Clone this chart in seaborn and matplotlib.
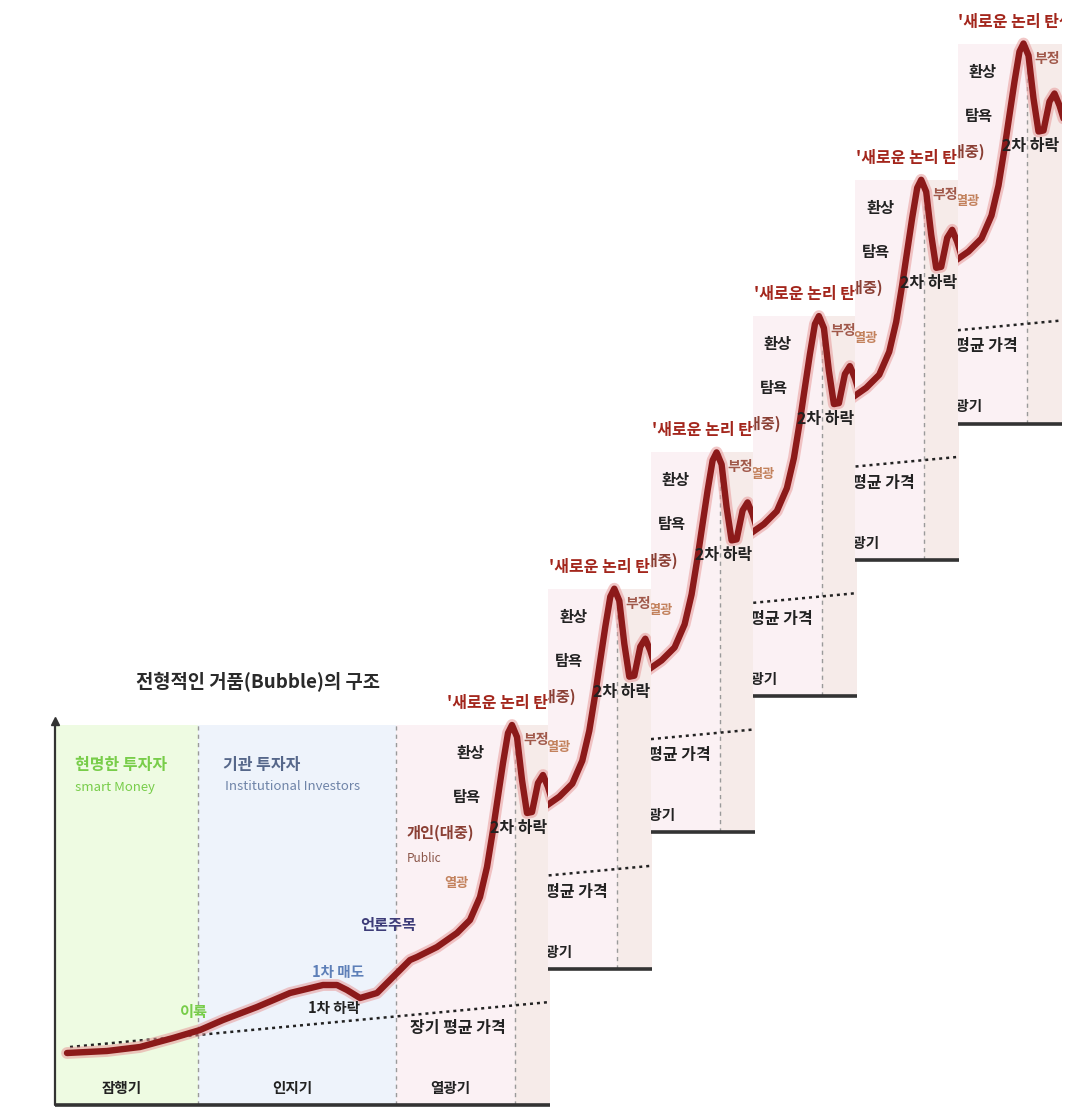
import matplotlib
matplotlib.use("Agg")
import matplotlib.pyplot as plt
import pandas as pd
import seaborn as sns

# ---------------- data ----------------
# bubble price path: time (x) and price (y)
time = [12, 52, 85, 118, 145, 168, 202, 235, 268, 282, 292, 305, 322, 338,
        355, 362, 382, 402, 415, 425, 432, 438, 442, 448, 453, 457, 462, 467,
        472, 477, 483, 488, 493, 497]
price = [52, 54, 58, 67, 75, 85, 98, 112, 120, 120, 115, 107, 112, 128,
         145, 148, 158, 172, 185, 208, 238, 275, 302, 342, 372, 380, 368, 325,
         292, 293, 322, 330, 318, 305]
# long-term average price (dotted line)
avg_time = [15, 495]
avg_price = [58, 103]
# phases
phase_edges = [0, 143, 341, 460, 495]
phase_names = ["잠행기", "인지기", "열광기"]
title = "전형적인 거품(Bubble)의 구조"
n_copies = 5

curve = pd.DataFrame({"time": time, "price": price})
avg = pd.DataFrame({"time": avg_time, "price": avg_price})

sns.set_theme(style="white")
plt.rcParams["font.family"] = ["Noto Sans CJK KR", "DejaVu Sans"]

W, H = 1080, 1120
fig = plt.figure(figsize=(W / 100, H / 100), dpi=100)
fig.patch.set_facecolor("white")


def add_ax(left, top, w, h, z):
    ax = fig.add_axes([left / W, 1 - (top + h) / H, w / W, h / H])
    ax.set_zorder(z)
    ax.set_facecolor("white")
    ax.set_axis_off()
    return ax


def T(ax, x, y, s, color="#222222", size=9.5, weight="bold", ha="center"):
    ax.text(x, y, s, color=color, fontsize=size, fontweight=weight, ha=ha,
            va="center", clip_on=True, zorder=6)


def draw(ax, base):
    top = 380
    bg = ["#eefbe2", "#eef3fb", "#fbf1f4", "#f6ebe9"]
    for i in range(4):
        ax.fill_between([phase_edges[i], phase_edges[i + 1]], 0, top,
                        color=bg[i], lw=0, zorder=0)
    for xv in phase_edges[1:4]:
        ax.plot([xv, xv], [0, top], color="#9a9a9a", lw=1.0,
                ls=(0, (3, 3)), zorder=1)
    # axes lines
    ax.plot([0, 495], [0, 0], color="#333333", lw=2.6, zorder=2,
            solid_capstyle="butt")
    if base:
        ax.plot([0, 0], [0, 382], color="#333333", lw=1.6, zorder=2)
        ax.plot([0], [384], marker="^", color="#333333", ms=6, zorder=2)
    # long-term average price
    sns.lineplot(data=avg, x="time", y="price", ax=ax, color="#222222",
                 lw=1.8, ls=(0, (1.2, 1.6)), zorder=3, legend=False)
    # price curve with glow
    sns.lineplot(data=curve, x="time", y="price", ax=ax, sort=False,
                 estimator=None, color="#e79a9a", lw=8.5, alpha=0.55,
                 zorder=4, legend=False)
    sns.lineplot(data=curve, x="time", y="price", ax=ax, sort=False,
                 estimator=None, color="#8c1a1a", lw=4.6, zorder=5,
                 legend=False, solid_joinstyle="round", solid_capstyle="round")

    # text
    if base:
        ax.text(203, 423, title, color="#2a2a2a", fontsize=13.5,
                fontweight="bold", ha="center", va="center", clip_on=True)
        T(ax, 20, 340, "현명한 투자자", "#78cd4a", 11.5, ha="left")
        T(ax, 20, 318, "smart Money", "#78cd4a", 9.5, "normal", ha="left")
        T(ax, 168, 340, "기관 투자자", "#56678a", 11.5, ha="left")
        T(ax, 170, 318, "Institutional Investors", "#6f84a8", 9.5, "normal",
          ha="left")
    T(ax, 139, 93, "이륙", "#78cd4a", 11)
    T(ax, 283, 133, "1차 매도", "#5d7fb8", 10.5)
    T(ax, 279, 97, "1차 하락", "#222222", 10.5)
    T(ax, 333, 180, "언론주목", "#3d3c78", 11)
    for name, (a, b) in zip(phase_names, zip(phase_edges[:3], phase_edges[1:4])):
        T(ax, (a + b) / 2 - 5, 17, name, "#222222", 10.5)
    T(ax, 403, 77, "장기 평균 가격", "#222222", 11.5)
    T(ax, 385, 272, "개인(대중)", "#8a3f34", 11)
    T(ax, 369, 247, "Public", "#8a5548", 8.5, "normal")
    T(ax, 401, 222, "열광", "#c3825d", 9.5)
    T(ax, 412, 308, "탐욕", "#222222", 11)
    T(ax, 416, 352, "환상", "#222222", 11)
    T(ax, 392, 402, "'새로운 논리 탄생'", "#a3261c", 11.5, ha="left")
    T(ax, 464, 277, "2차 하락", "#222222", 11.5)
    T(ax, 481, 365, "부정", "#a0584a", 10)


# base chart: px x 50..550, y 640..1113
base = add_ax(50, 640, 500, 473, 1)
base.set_xlim(-5, 495)
base.set_ylim(-8, 465)
draw(base, True)

# stacked cropped copies of the right part
dx, dy = 102.3, 136.3
copies = []
for k in range(1, n_copies + 1):
    ax = add_ax(446 + dx * k, 688 - dy * k, 104, 425, 1 + k)
    ax.set_xlim(391, 495)
    ax.set_ylim(-8, 417)
    draw(ax, False)
    copies.append(ax)

# drop copy texts that fall completely outside their crop window
fig.canvas.draw()
r = fig.canvas.get_renderer()
for ax in [base] + copies:
    bb = ax.bbox
    for t in list(ax.texts):
        e = t.get_window_extent(r)
        if e.x1 <= bb.x0 or e.x0 >= bb.x1 or e.y1 <= bb.y0 or e.y0 >= bb.y1:
            t.remove()

fig.savefig("out.png", dpi=100, facecolor="white")
